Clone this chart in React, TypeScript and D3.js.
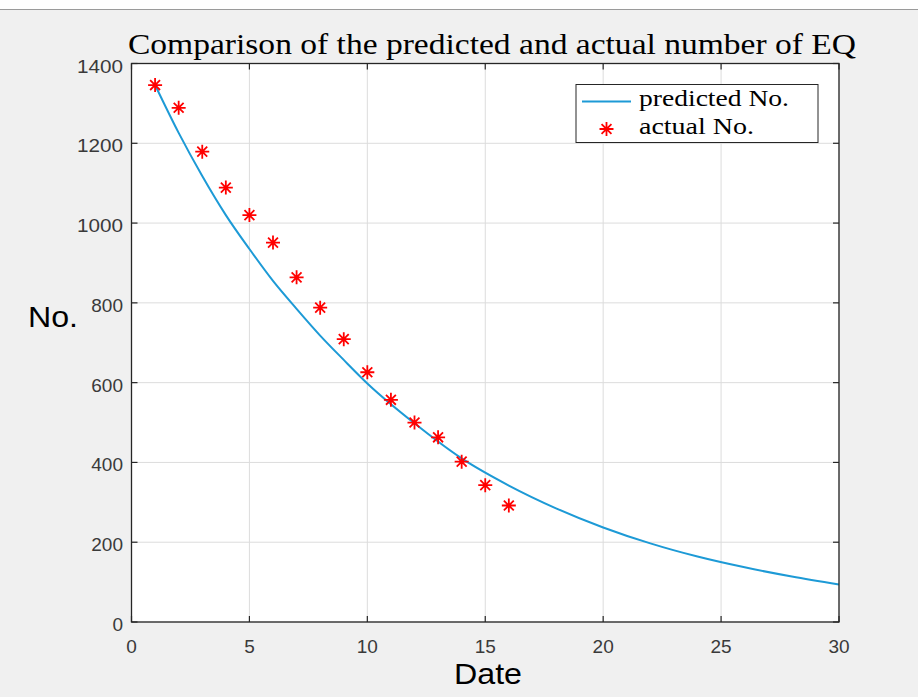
import React, { useEffect, useRef } from "react";
import * as d3 from "d3";

const actualDates = [1, 2, 3, 4, 5, 6, 7, 8, 9, 10, 11, 12, 13, 14, 15, 16];
const actualValues = [1346, 1289, 1179, 1089, 1020, 951, 864, 788, 709, 626, 557, 500, 463, 402, 343, 292];

const predictedDates = [1, 2, 3, 4, 5, 6, 7, 8, 9, 10, 12, 14, 16, 18, 20, 22, 24, 26, 28, 30];
const predictedValues = [1346, 1226, 1118, 1020, 935, 855, 785, 718, 657, 598, 498, 410, 342, 285, 237, 197, 164, 137, 114, 94];

const xTicks = [0, 5, 10, 15, 20, 25, 30];
const yTicks = [0, 200, 400, 600, 800, 1000, 1200, 1400];

const titleText = "Comparison of the predicted and actual number of EQ";
const xLabel = "Date";
const yLabel = "No.";
const legendLabels = ["predicted No.", "actual No."];
const legendWidths = [150, 115];

const W = 918;
const H = 697;
const M = { left: 131.5, right: 839, top: 63.5, bottom: 622 };
const LINE_COLOR = "#1d9ad6";
const STAR_COLOR = "#ff0000";
const AXIS_COLOR = "#262626";

function starPath(cx: number, cy: number, r: number) {
  const d = r * Math.SQRT1_2;
  return `M${cx - r},${cy}L${cx + r},${cy}M${cx},${cy - r}L${cx},${cy + r}` +
    `M${cx - d},${cy - d}L${cx + d},${cy + d}M${cx - d},${cy + d}L${cx + d},${cy - d}`;
}

export default function App() {
  const ref = useRef<SVGSVGElement>(null);

  useEffect(() => {
    const svg = d3.select(ref.current);
    svg.selectAll("*").remove();

    const x = d3.scaleLinear().domain([0, 30]).range([M.left, M.right]);
    const y = d3.scaleLinear().domain([0, 1400]).range([M.bottom, M.top]);

    // background
    svg.append("rect").attr("x", 0).attr("y", 0).attr("width", W).attr("height", H).attr("fill", "#f0f0f0");
    svg.append("rect").attr("x", 0).attr("y", 0).attr("width", W).attr("height", 9).attr("fill", "#ffffff");
    svg.append("line").attr("x1", 0).attr("x2", W).attr("y1", 9.5).attr("y2", 9.5).attr("stroke", "#9a9a9a").attr("stroke-width", 1);

    // plot area
    svg.append("rect")
      .attr("x", M.left).attr("y", M.top)
      .attr("width", M.right - M.left).attr("height", M.bottom - M.top)
      .attr("fill", "#ffffff");

    // grid
    const g = svg.append("g");
    xTicks.forEach((t) => {
      g.append("line").attr("x1", x(t)).attr("x2", x(t)).attr("y1", M.top).attr("y2", M.bottom)
        .attr("stroke", "#dcdcdc").attr("stroke-width", 1);
    });
    yTicks.forEach((t) => {
      g.append("line").attr("x1", M.left).attr("x2", M.right).attr("y1", y(t)).attr("y2", y(t))
        .attr("stroke", "#dcdcdc").attr("stroke-width", 1);
    });

    // predicted line
    const line = d3.line<number>()
      .x((_, i) => x(predictedDates[i]))
      .y((d) => y(d))
      .curve(d3.curveMonotoneX);
    svg.append("path").datum(predictedValues).attr("d", line)
      .attr("fill", "none").attr("stroke", LINE_COLOR).attr("stroke-width", 2);

    // actual stars
    actualValues.forEach((v, i) => {
      svg.append("path").attr("d", starPath(x(actualDates[i]), y(v), 7))
        .attr("stroke", STAR_COLOR).attr("stroke-width", 1.8).attr("fill", "none");
    });

    // axes box
    svg.append("rect")
      .attr("x", M.left).attr("y", M.top)
      .attr("width", M.right - M.left).attr("height", M.bottom - M.top)
      .attr("fill", "none").attr("stroke", AXIS_COLOR).attr("stroke-width", 1.3);

    const tl = 6;
    xTicks.forEach((t) => {
      svg.append("line").attr("x1", x(t)).attr("x2", x(t)).attr("y1", M.bottom).attr("y2", M.bottom - tl)
        .attr("stroke", AXIS_COLOR).attr("stroke-width", 1.2);
      svg.append("line").attr("x1", x(t)).attr("x2", x(t)).attr("y1", M.top).attr("y2", M.top + tl)
        .attr("stroke", AXIS_COLOR).attr("stroke-width", 1.2);
      svg.append("text").attr("x", x(t)).attr("y", 653)
        .attr("text-anchor", "middle")
        .attr("font-family", "'Liberation Sans', Arial, sans-serif")
        .attr("font-size", 19).attr("fill", "#3a3a3a").text(String(t));
    });
    yTicks.forEach((t) => {
      svg.append("line").attr("x1", M.left).attr("x2", M.left + tl).attr("y1", y(t)).attr("y2", y(t))
        .attr("stroke", AXIS_COLOR).attr("stroke-width", 1.2);
      svg.append("line").attr("x1", M.right).attr("x2", M.right - tl).attr("y1", y(t)).attr("y2", y(t))
        .attr("stroke", AXIS_COLOR).attr("stroke-width", 1.2);
      const s = String(t);
      const txt = svg.append("text").attr("x", 123).attr("y", y(t) + 9)
        .attr("text-anchor", "end")
        .attr("font-family", "'Liberation Sans', Arial, sans-serif")
        .attr("font-size", 19).attr("fill", "#3a3a3a").text(s);
      if (s.length === 4) txt.attr("textLength", 46).attr("lengthAdjust", "spacingAndGlyphs");
    });

    // title
    svg.append("text").attr("x", 492).attr("y", 54)
      .attr("text-anchor", "middle")
      .attr("font-family", "'Liberation Serif', 'Times New Roman', serif")
      .attr("font-size", 29).attr("fill", "#000")
      .attr("textLength", 728).attr("lengthAdjust", "spacingAndGlyphs")
      .text(titleText);

    // axis labels
    svg.append("text").attr("x", 488).attr("y", 684)
      .attr("text-anchor", "middle")
      .attr("font-family", "'Liberation Sans', Arial, sans-serif")
      .attr("font-size", 30).attr("fill", "#000")
      .attr("textLength", 68).attr("lengthAdjust", "spacingAndGlyphs")
      .text(xLabel);
    svg.append("text").attr("x", 28).attr("y", 327)
      .attr("font-family", "'Liberation Sans', Arial, sans-serif")
      .attr("font-size", 30).attr("fill", "#000")
      .attr("textLength", 50).attr("lengthAdjust", "spacingAndGlyphs")
      .text(yLabel);

    // legend
    const lg = svg.append("g");
    lg.append("rect").attr("x", 576).attr("y", 84.5).attr("width", 242).attr("height", 58)
      .attr("fill", "#fff").attr("stroke", AXIS_COLOR).attr("stroke-width", 1);
    lg.append("line").attr("x1", 582).attr("x2", 631).attr("y1", 101.5).attr("y2", 101.5)
      .attr("stroke", LINE_COLOR).attr("stroke-width", 2);
    lg.append("path").attr("d", starPath(606.5, 129, 7))
      .attr("stroke", STAR_COLOR).attr("stroke-width", 1.8).attr("fill", "none");
    legendLabels.forEach((lab, i) => {
      lg.append("text").attr("x", 639).attr("y", 106 + i * 28)
        .attr("font-family", "'Liberation Serif', 'Times New Roman', serif")
        .attr("font-size", 24).attr("fill", "#000")
        .attr("textLength", legendWidths[i]).attr("lengthAdjust", "spacingAndGlyphs")
        .text(lab);
    });
  }, []);

  return (
    <svg
      ref={ref}
      width={W}
      height={H}
      style={{ position: "absolute", left: 0, top: 0, display: "block" }}
    />
  );
}
